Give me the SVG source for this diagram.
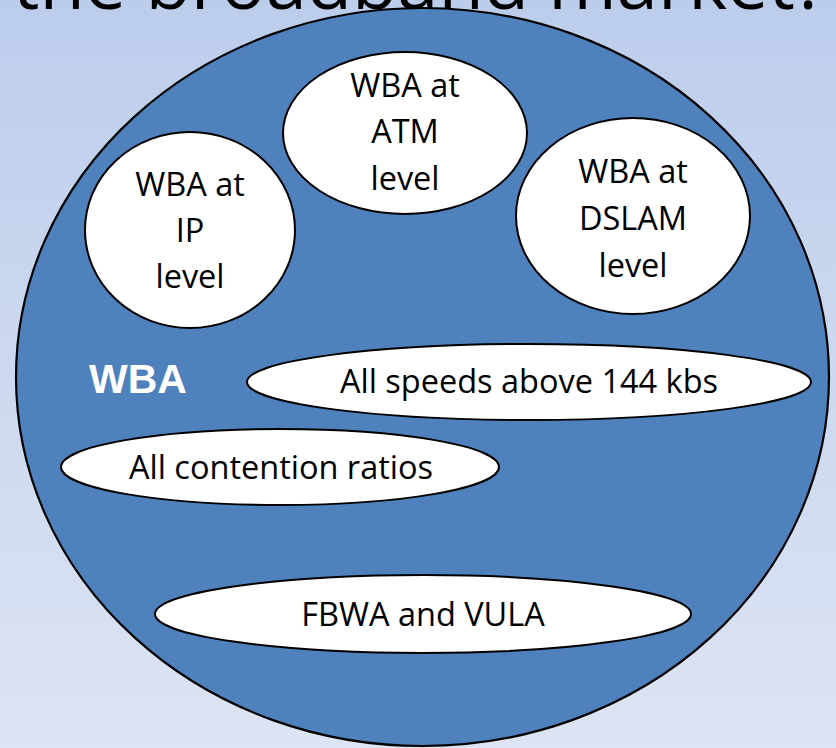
<svg xmlns="http://www.w3.org/2000/svg" width="836" height="748" viewBox="0 0 836 748">
  <defs>
    <linearGradient id="bg" x1="0" y1="0" x2="0" y2="1">
      <stop offset="0" stop-color="#bccdec"/>
      <stop offset="1" stop-color="#dde4f3"/>
    </linearGradient>
  </defs>
  <style>
    .outer { fill: #4f81bd; stroke: #000; stroke-width: 2.2; }
    .bubble { fill: #fff; stroke: #000; stroke-width: 2; }
    .lbl { font-family: "Open Sans", "Noto Sans", sans-serif; font-size: 32.5px; fill: #000; text-anchor: middle; }
    .title { font-family: "Open Sans", "Noto Sans", sans-serif; font-size: 74px; fill: #000; text-anchor: middle; }
    .wba { font-family: "Liberation Sans", Arial, sans-serif; font-weight: bold; font-size: 41px; fill: #fff; }
  </style>
  <rect width="836" height="748" fill="url(#bg)"/>
  <!-- slide heading, running off the top edge -->
  <text class="title" x="420" y="9">the broadband market?</text>

  <g id="wba">
    <ellipse class="outer" cx="422.5" cy="377" rx="406.5" ry="369"/>
    <text class="wba" x="89" y="393">WBA</text>
  </g>

  <g id="wba-atm">
    <ellipse class="bubble" cx="405" cy="133" rx="122" ry="81"/>
    <text class="lbl" x="405" y="97">WBA at</text>
    <text class="lbl" x="405" y="143">ATM</text>
    <text class="lbl" x="405" y="190">level</text>
  </g>

  <g id="wba-ip">
    <ellipse class="bubble" cx="190" cy="230" rx="105" ry="98"/>
    <text class="lbl" x="190" y="196">WBA at</text>
    <text class="lbl" x="190" y="242">IP</text>
    <text class="lbl" x="190" y="288">level</text>
  </g>

  <g id="wba-dslam">
    <ellipse class="bubble" cx="633" cy="216" rx="117" ry="98"/>
    <text class="lbl" x="633" y="183">WBA at</text>
    <text class="lbl" x="633" y="230">DSLAM</text>
    <text class="lbl" x="633" y="277">level</text>
  </g>

  <g id="speeds">
    <ellipse class="bubble" cx="529" cy="382" rx="282" ry="38"/>
    <text class="lbl" x="529" y="393">All speeds above 144 kbs</text>
  </g>

  <g id="contention">
    <ellipse class="bubble" cx="280" cy="467" rx="219" ry="38"/>
    <text class="lbl" x="281" y="479">All contention ratios</text>
  </g>

  <g id="fbwa-vula">
    <ellipse class="bubble" cx="423" cy="614" rx="268" ry="39"/>
    <text class="lbl" x="423" y="626">FBWA and VULA</text>
  </g>

  <g id="connectors"/>
</svg>
